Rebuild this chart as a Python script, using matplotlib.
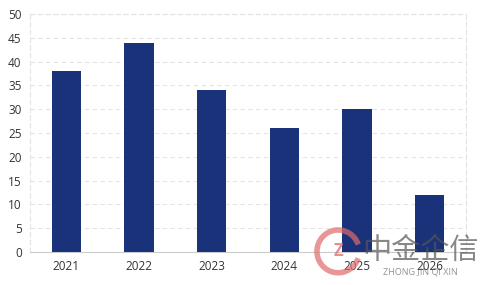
import matplotlib.pyplot as plt
from matplotlib.patches import Arc

# data
years = ['2021', '2022', '2023', '2024', '2025', '2026']
values = [38, 44, 34, 26, 30, 12]
y_ticks = [0, 5, 10, 15, 20, 25, 30, 35, 40, 45, 50]

plt.rcParams['font.family'] = ['Open Sans', 'Noto Sans CJK SC', 'DejaVu Sans']

fig = plt.figure(figsize=(4.81, 2.85), dpi=100)
ax = fig.add_axes([30 / 481, 33 / 285, 436 / 481, 238 / 285])

x = range(len(years))
ax.bar(x, values, width=0.4, color='#19327a', zorder=3)

ax.set_xlim(-0.5, len(years) - 0.5)
ax.set_ylim(0, 50)
ax.set_yticks(y_ticks)
ax.set_xticks(list(x))
ax.set_xticklabels(years)

# dashed grid and frame
ax.grid(axis='y', color='#e3e3e3', linestyle=(0, (4, 3)), linewidth=0.8, zorder=0)
for side in ['left', 'right', 'top']:
    ax.spines[side].set_color('#e3e3e3')
    ax.spines[side].set_linestyle((0, (4, 3)))
    ax.spines[side].set_linewidth(0.8)
ax.spines['bottom'].set_color('#cccccc')
ax.spines['bottom'].set_linewidth(0.8)

ax.tick_params(axis='both', length=0, labelsize=8.5, colors='#333333')
ax.tick_params(axis='y', pad=6)
ax.tick_params(axis='x', pad=6)

# watermark (logo + name), semi transparent like the reference
fig.text(0.875, 0.118, '中金企信', fontsize=21, color='#555555', alpha=0.7,
         ha='center', va='center', family=['Noto Sans CJK SC', 'DejaVu Sans'])
fig.text(0.875, 0.045, 'ZHONG JIN QI XIN', fontsize=6.5, color='#666666', alpha=0.7,
         ha='center', va='center')
fig.patches.append(Arc((0.703, 0.118), 0.088, 0.15, theta1=30, theta2=330,
                       transform=fig.transFigure, color='#e06a6a', lw=4, alpha=0.7))
fig.text(0.703, 0.118, 'Z', fontsize=12, color='#e06a6a', alpha=0.75,
         ha='center', va='center', fontweight='bold')

fig.savefig('out.png', dpi=100)
